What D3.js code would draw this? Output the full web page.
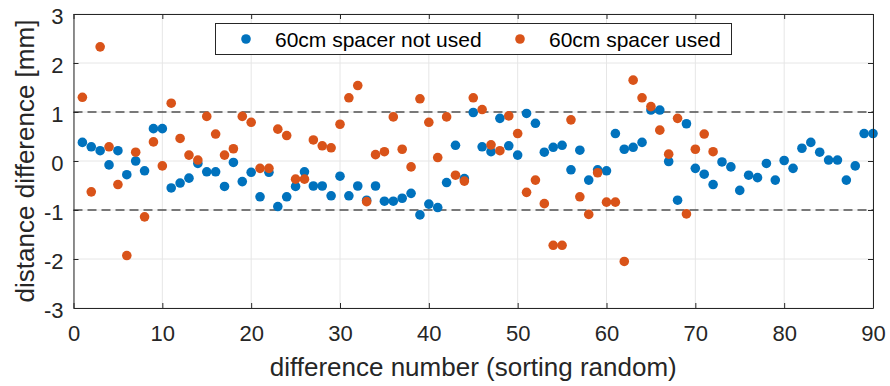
<!DOCTYPE html>
<html>
<head>
<meta charset="utf-8">
<script src="https://cdn.jsdelivr.net/npm/d3@7"></script>
<style>
  html, body { margin: 0; padding: 0; background: #fff; }
  svg { display: block; font-family: "Liberation Sans", Arial, Helvetica, sans-serif; }
</style>
</head>
<body>
<svg id="chart" width="890" height="386"></svg>
<script>
// Distance differences (mm) per measurement, in random order
const notUsed = [
  0.38, 0.29, 0.21, -0.08, 0.21, -0.28, 0.00, -0.20, 0.66, 0.66,
  -0.55, -0.45, -0.35, -0.05, -0.22, -0.22, -0.52, -0.03, -0.42, -0.23,
  -0.73, -0.23, -0.93, -0.73, -0.52, -0.22, -0.51, -0.51, -0.71, -0.31,
  -0.71, -0.51, -0.80, -0.51, -0.82, -0.82, -0.76, -0.66, -1.10, -0.88,
  -0.95, -0.44, 0.32, -0.36, 0.99, 0.29, 0.19, 0.87, 0.31, 0.12,
  0.97, 0.77, 0.18, 0.28, 0.32, -0.18, 0.22, -0.39, -0.18, -0.20,
  0.56, 0.24, 0.28, 0.38, 1.04, 1.04, -0.01, -0.80, 0.76, -0.15,
  -0.27, -0.48, -0.02, -0.12, -0.60, -0.29, -0.34, -0.05, -0.39, 0.01,
  -0.15, 0.26, 0.38, 0.18, 0.02, 0.02, -0.39, -0.10, 0.56, 0.56
];
const used = [
  1.30, -0.63, 2.33, 0.29, -0.48, -1.93, 0.18, -1.14, 0.39, -0.10,
  1.18, 0.46, 0.12, 0.02, 0.91, 0.55, 0.12, 0.25, 0.91, 0.79,
  -0.15, -0.15, 0.65, 0.52, -0.37, -0.37, 0.43, 0.31, 0.27, 0.75,
  1.29, 1.54, -0.83, 0.13, 0.19, 0.90, 0.24, -0.12, 1.27, 0.79,
  0.07, 0.90, -0.29, -0.41, 1.29, 1.05, 0.33, 0.21, 0.92, 0.56,
  -0.64, -0.39, -0.87, -1.72, -1.72, 0.84, -0.73, -1.09, -0.24, -0.84,
  -0.84, -2.05, 1.65, 1.29, 1.11, 0.63, 0.14, 0.87, -1.08, 0.24,
  0.55, 0.19
];
const seriesNames = ["60cm spacer not used", "60cm spacer used"];
const seriesColors = ["#0072BD", "#D95319"];
const xTicks = [0, 10, 20, 30, 40, 50, 60, 70, 80, 90];
const yTicks = [-3, -2, -1, 0, 1, 2, 3];
const limitLines = [-1, 1];
const xLabel = "difference number (sorting random)";
const yLabel = "distance difference [mm]";

const svg = d3.select("#chart");
const margin = { left: 73.5, right: 17, top: 14, bottom: 78 };
const W = 890, H = 386;
const x = d3.scaleLinear().domain([0, 90]).range([margin.left, W - margin.right]);
const y = d3.scaleLinear().domain([-3, 3]).range([H - margin.bottom, margin.top]);
const axisColor = "#262626";
const fmt = d => String(d);

// Grid
const grid = svg.append("g");
grid.selectAll(".gx").data(xTicks).join("line")
  .attr("x1", d => x(d)).attr("x2", d => x(d))
  .attr("y1", y(-3)).attr("y2", y(3))
  .attr("stroke", "#e6e6e6").attr("stroke-width", 1);
grid.selectAll(".gy").data(yTicks).join("line")
  .attr("x1", x(0)).attr("x2", x(90))
  .attr("y1", d => y(d)).attr("y2", d => y(d))
  .attr("stroke", "#e6e6e6").attr("stroke-width", 1);

// Tolerance lines at ±1 mm
svg.append("g").selectAll("line").data(limitLines).join("line")
  .attr("x1", x(0)).attr("x2", x(90))
  .attr("y1", d => y(d)).attr("y2", d => y(d))
  .attr("stroke", "#000").attr("stroke-width", 1.2)
  .attr("stroke-dasharray", "9,5");

// Points
const pts = svg.append("g");
[notUsed, used].forEach((vals, s) => {
  pts.append("g").selectAll("circle").data(vals).join("circle")
    .attr("cx", (d, i) => x(i + 1))
    .attr("cy", d => y(d))
    .attr("r", 4.8)
    .attr("fill", seriesColors[s]);
});

// Axes (ticks pointing inward, box around plot)
const tickLen = 5;
const xAxisB = d3.axisBottom(x).tickValues(xTicks).tickFormat(fmt).tickSizeInner(-tickLen).tickSizeOuter(0).tickPadding(17);
const xAxisT = d3.axisTop(x).tickValues(xTicks).tickSizeInner(-tickLen).tickSizeOuter(0).tickFormat("");
const yAxisL = d3.axisLeft(y).tickValues(yTicks).tickFormat(fmt).tickSizeInner(-tickLen).tickSizeOuter(0).tickPadding(10);
const yAxisR = d3.axisRight(y).tickValues(yTicks).tickSizeInner(-tickLen).tickSizeOuter(0).tickFormat("");

function styleAxis(g) {
  g.attr("font-size", 22).attr("font-family", "Liberation Sans, Arial, sans-serif");
  g.select(".domain").attr("stroke", axisColor).attr("stroke-width", 1);
  g.selectAll(".tick line").attr("stroke", axisColor).attr("stroke-width", 1);
  g.selectAll(".tick text").attr("fill", axisColor);
}
svg.append("g").attr("transform", `translate(0,${y(-3)})`).call(xAxisB).call(styleAxis);
svg.append("g").attr("transform", `translate(0,${y(3)})`).call(xAxisT).call(styleAxis);
svg.append("g").attr("transform", `translate(${x(0)},0)`).call(yAxisL).call(styleAxis)
  .selectAll(".tick text").attr("dy", "0.42em");
svg.append("g").attr("transform", `translate(${x(90)},0)`).call(yAxisR).call(styleAxis);

// Axis titles
svg.append("text")
  .attr("x", (x(0) + x(90)) / 2).attr("y", 376)
  .attr("text-anchor", "middle").attr("font-size", 26).attr("fill", axisColor)
  .text(xLabel);
svg.append("text")
  .attr("transform", `translate(34,${(y(-3) + y(3)) / 2}) rotate(-90)`)
  .attr("text-anchor", "middle").attr("font-size", 26).attr("fill", axisColor)
  .text(yLabel);

// Legend
const leg = svg.append("g");
leg.append("rect")
  .attr("x", 215.5).attr("y", 23.5).attr("width", 516).attr("height", 31)
  .attr("fill", "#fff").attr("stroke", axisColor).attr("stroke-width", 1);
const legX = [246, 520];
seriesNames.forEach((name, s) => {
  leg.append("circle").attr("cx", legX[s]).attr("cy", 39).attr("r", 4.8).attr("fill", seriesColors[s]);
  leg.append("text").attr("x", legX[s] + 29).attr("y", 47)
    .attr("font-size", 21).attr("fill", "#000").text(name);
});
</script>
</body>
</html>
